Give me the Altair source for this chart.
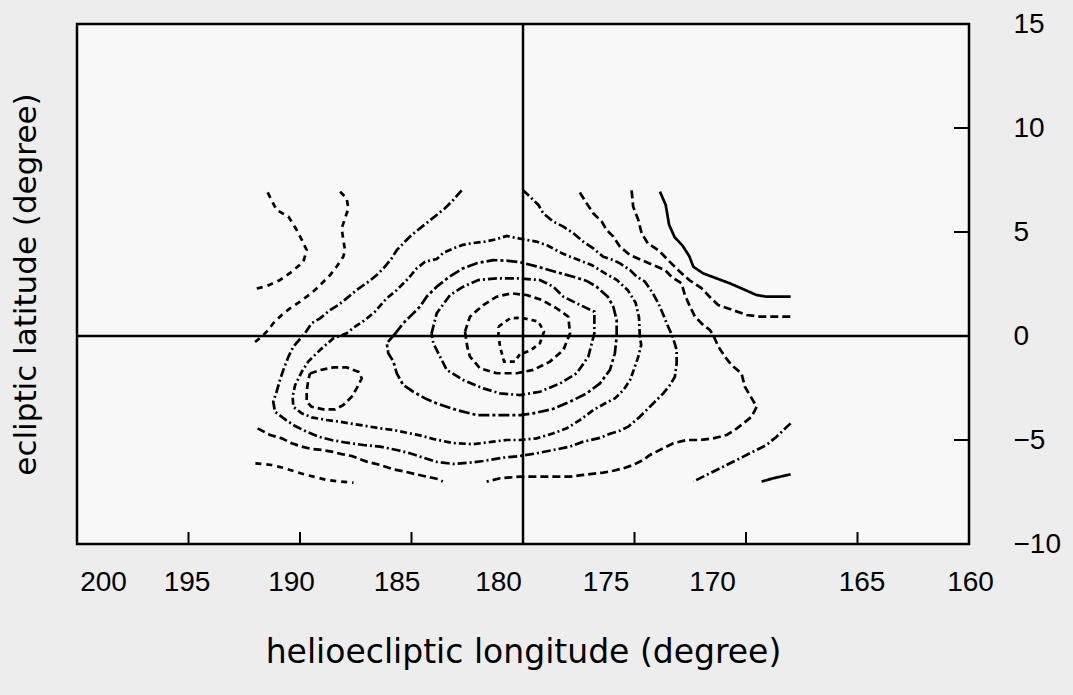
import altair as alt
import pandas as pd

# ---------------- data ----------------
x_ticks = [200, 195, 190, 185, 180, 175, 170, 165, 160]
y_ticks = [-10, -5, 0, 5, 10, 15]

# closed contours around the main peak (lon, lat)
c1 = [(181.1, 0.45), (180.58, 0.85), (180.06, 0.88), (179.31, 0.69), (179.06, 0.21),
      (179.24, -0.35), (179.69, -0.71), (180.14, -0.87), (180.36, -1.23), (180.85, -1.23),
      (181.03, -0.51), (181.1, 0.05)]
c2 = [(182.6, 0.21), (182.38, 0.93), (181.78, 1.49), (181.18, 1.89), (180.51, 2.05),
      (179.84, 1.97), (179.16, 1.73), (178.49, 1.33), (177.97, 0.93), (177.89, 0.13),
      (178.19, -0.67), (178.79, -1.23), (179.54, -1.63), (180.28, -1.79), (181.18, -1.79),
      (181.93, -1.55), (182.38, -0.99), (182.5, -0.51)]
c3 = [(184.1, 0.13), (183.87, 1.09), (183.27, 1.97), (182.68, 2.37), (182.0, 2.69),
      (181.18, 2.77), (180.14, 2.77), (179.24, 2.69), (178.64, 2.37), (178.19, 1.89),
      (177.44, 1.49), (176.8, 1.17), (176.8, 0.13), (177.07, -0.99), (177.59, -1.79),
      (178.34, -2.28), (179.24, -2.68), (180.14, -2.84), (181.03, -2.76), (181.78, -2.52),
      (182.68, -2.12), (183.42, -1.63), (183.72, -0.99), (184.02, -0.35)]
c4 = [(185.74, 0.1), (185.37, 0.61), (185.07, 0.93), (184.62, 1.41), (184.32, 1.89),
      (183.87, 2.37), (183.3, 2.85), (182.7, 3.25), (182.08, 3.5), (181.33, 3.65),
      (180.73, 3.62), (180.14, 3.55), (179.4, 3.35), (178.6, 3.1), (177.75, 2.85),
      (177.15, 2.65), (176.7, 2.37), (176.2, 1.89), (175.95, 1.41), (175.8, 0.77),
      (175.8, -0.03), (175.88, -0.83), (176.1, -1.63), (176.55, -2.28), (177.15, -2.76),
      (177.9, -3.16), (178.64, -3.5), (179.54, -3.72), (180.11, -3.8), (181.03, -3.8),
      (182.08, -3.8), (182.97, -3.56), (183.87, -3.24), (184.39, -3.0), (184.92, -2.68),
      (185.37, -2.36), (185.66, -1.8), (185.81, -1.23), (186.04, -0.83), (186.11, -0.35)]
# closed contour around the secondary peak
s1 = [(189.55, -1.8), (189.1, -1.64), (188.5, -1.51), (187.91, -1.51), (187.38, -1.72),
      (187.23, -2.04), (187.46, -2.52), (187.68, -2.92), (188.06, -3.32), (188.43, -3.53),
      (188.95, -3.53), (189.48, -3.4), (189.7, -3.16), (189.7, -2.68), (189.63, -2.12)]
# closed contour around both peaks
c5 = [(174.76, 0.0), (174.8, 0.9), (174.95, 1.6), (175.3, 2.2), (175.8, 2.7), (176.3, 3.0),
      (176.9, 3.4), (177.5, 3.65), (178.2, 3.95), (178.9, 4.35), (179.4, 4.54), (180.0, 4.65),
      (180.73, 4.81), (181.2, 4.65), (181.7, 4.54), (182.3, 4.46), (182.7, 4.38),
      (183.13, 4.21), (183.57, 4.0), (183.87, 3.7), (184.39, 3.57), (184.77, 3.25),
      (185.14, 2.77), (185.66, 2.21), (186.11, 1.81), (186.64, 1.17), (187.08, 0.77),
      (187.53, 0.45), (187.91, 0.13), (188.5, -0.11), (189.1, -0.67), (189.63, -1.23),
      (189.92, -1.72), (190.22, -2.36), (190.33, -2.92), (190.3, -3.4), (189.92, -3.72),
      (189.48, -3.91), (188.8, -4.04), (188.21, -4.12), (187.61, -4.23), (187.01, -4.33),
      (186.41, -4.44), (185.81, -4.52), (185.22, -4.65), (184.62, -4.78), (184.02, -4.95),
      (183.13, -5.15), (182.23, -5.2), (181.33, -5.08), (180.73, -5.0), (180.14, -5.0),
      (179.39, -4.92), (178.64, -4.68), (178.04, -4.44), (177.45, -4.04), (176.85, -3.56),
      (176.25, -3.2), (175.88, -3.0), (175.5, -2.6), (175.2, -2.12), (174.98, -1.47),
      (174.83, -0.99), (174.7, -0.43)]
# open contours (cut by the edge of the data area)
c6 = [(182.75, 7.0), (183.13, 6.54), (183.5, 6.14), (183.87, 5.82), (184.3, 5.45),
      (184.99, 4.86), (185.29, 4.54), (185.66, 4.13), (185.89, 3.73), (186.26, 3.25),
      (186.56, 2.93), (186.93, 2.61), (187.46, 2.21), (187.91, 1.81), (188.28, 1.49),
      (188.65, 1.25), (189.1, 0.85), (189.48, 0.61), (189.78, 0.13), (190.3, -0.51),
      (190.52, -1.0), (190.75, -1.64), (190.9, -2.12), (191.05, -2.68), (191.2, -3.16),
      (191.12, -3.64), (190.67, -4.01), (190.22, -4.33), (189.7, -4.6), (189.18, -4.84),
      (188.58, -5.0), (187.91, -5.13), (187.16, -5.24), (186.41, -5.32), (185.66, -5.48),
      (185.07, -5.64), (184.47, -5.85), (183.87, -6.05), (183.13, -6.15), (182.38, -6.09),
      (181.78, -6.01), (180.88, -5.85), (180.14, -5.77), (179.39, -5.64), (178.64, -5.48),
      (177.89, -5.32), (177.3, -5.08), (176.55, -4.9), (176.1, -4.7), (175.65, -4.55),
      (175.28, -4.36), (174.76, -3.88), (174.31, -3.4), (174.01, -3.08), (173.71, -2.76),
      (173.41, -2.36), (173.19, -1.96), (173.11, -1.31), (173.11, -0.67), (173.3, 0.0),
      (173.56, 0.61), (173.7, 1.0), (173.93, 1.57), (174.2, 2.1), (174.53, 2.61),
      (174.9, 2.85), (175.2, 3.17), (175.65, 3.49), (175.95, 3.65), (176.4, 3.81),
      (176.85, 4.21), (177.3, 4.54), (177.74, 4.94), (178.19, 5.26), (178.64, 5.5),
      (179.09, 5.9), (179.31, 6.3), (179.69, 6.7), (179.99, 7.0)]
c7 = [(177.45, 6.9), (177.15, 6.38), (176.85, 5.9), (176.47, 5.5), (176.25, 5.1),
      (175.95, 4.78), (175.65, 4.29), (175.2, 3.89), (174.68, 3.65), (174.16, 3.41),
      (173.63, 3.17), (173.34, 2.85), (172.89, 2.53), (172.74, 1.97), (172.51, 1.41),
      (172.29, 0.93), (171.92, 0.53), (171.62, 0.29), (171.45, 0.0), (171.24, -0.51),
      (170.95, -0.99), (170.65, -1.39), (170.2, -1.8), (170.05, -2.44), (169.75, -2.99),
      (169.52, -3.4), (169.75, -3.88), (170.12, -4.2), (170.5, -4.52), (170.87, -4.76),
      (171.47, -4.92), (172.07, -5.0), (172.66, -5.0), (173.26, -5.16), (173.71, -5.4),
      (174.31, -5.72), (174.61, -5.96), (175.06, -6.2), (175.5, -6.36), (175.95, -6.48),
      (176.4, -6.57), (176.7, -6.6), (177.3, -6.68), (177.89, -6.76), (178.64, -6.76),
      (179.39, -6.76), (180.14, -6.76), (181.03, -6.84), (181.63, -7.0)]
r3 = [(191.9, -4.44), (191.34, -4.76), (190.82, -4.92), (190.37, -5.16), (189.92, -5.32),
      (189.48, -5.43), (189.03, -5.48), (188.58, -5.56), (188.13, -5.68), (187.68, -5.77),
      (187.01, -6.04), (186.41, -6.2), (185.81, -6.41), (185.29, -6.52), (184.84, -6.64),
      (184.32, -6.76), (183.8, -6.88), (183.6, -7.0)]
r4 = [(192.0, -6.12), (191.27, -6.2), (190.67, -6.36), (189.98, -6.6), (189.4, -6.76),
      (188.8, -6.92), (188.21, -7.0), (187.6, -7.05)]
l1 = [(191.45, 6.9), (191.05, 6.06), (190.52, 5.74), (190.15, 5.1), (189.92, 4.62),
      (189.7, 4.13), (189.85, 3.57), (190.37, 3.09), (190.9, 2.69), (191.49, 2.4),
      (192.02, 2.26)]
l2 = [(188.2, 6.94), (187.91, 6.62), (187.83, 6.14), (187.98, 5.66), (188.13, 5.18),
      (188.06, 4.62), (187.98, 4.13), (188.06, 3.81), (188.36, 3.33), (188.65, 2.93),
      (188.95, 2.61), (189.33, 2.21), (189.7, 1.89), (190.0, 1.65), (190.45, 1.33),
      (190.82, 1.01), (191.2, 0.61), (191.42, 0.29), (191.72, -0.03), (192.09, -0.35)]
c8_up = [(175.13, 7.0), (175.06, 6.22), (174.83, 5.58), (174.68, 4.94), (174.4, 4.45),
         (173.9, 4.1), (173.45, 3.6), (173.0, 3.13), (172.55, 2.69), (172.0, 2.3),
         (171.6, 1.85), (171.25, 1.49), (170.6, 1.25), (169.97, 1.01), (169.38, 0.93),
         (168.0, 0.93)]
c8_low = [(168.0, -4.2), (168.63, -4.84), (169.08, -5.24), (169.68, -5.56), (170.27, -5.88),
          (170.72, -6.12), (171.32, -6.44), (171.92, -6.76), (172.36, -7.0)]
c9_up = [(173.86, 6.94), (173.6, 6.3), (173.45, 5.35), (173.2, 4.75), (172.85, 4.35),
         (172.55, 3.85), (172.36, 3.33), (171.92, 3.01), (171.32, 2.77), (170.72, 2.53),
         (170.12, 2.25), (169.53, 1.97), (169.08, 1.89), (168.0, 1.89)]
c9_low = [(169.3, -7.0), (168.78, -6.84), (168.0, -6.65)]

# name, points, line style, closed?
contours = [
    ("c1", c1, "s1", True), ("c2", c2, "s2", True), ("c3", c3, "s3", True),
    ("c4", c4, "s4", True), ("s1", s1, "s2", True), ("c5", c5, "s5", True),
    ("c6", c6, "s6", False), ("c7", c7, "s7", False), ("r3", r3, "s7", False),
    ("r4", r4, "s8", False), ("l1", l1, "s8", False), ("l2", l2, "s8", False),
    ("c8u", c8_up, "s7", False), ("c8l", c8_low, "s6", False),
    ("c9u", c9_up, "solid", False), ("c9l", c9_low, "solid", False),
]
style_names = ["s1", "s2", "s3", "s4", "s5", "s6", "s7", "s8", "solid"]
style_dash = [[5, 4], [7, 4], [9, 3, 2, 3], [11, 3, 3, 3], [7, 3, 2, 3],
              [9, 3, 2, 3], [8, 4], [6, 5], [1, 0]]

rows = []
for name, pts, style, closed in contours:
    seq = pts + [pts[0]] if closed else pts
    for i, (lo, la) in enumerate(seq):
        rows.append({"cid": name, "i": i, "lon": lo, "lat": la, "style": style})
df = pd.DataFrame(rows)

# ---------------- chart ----------------
W, H = 892, 520
LABEL_FONT = "Liberation Sans"
TITLE_FONT = "DejaVu Sans"

# the printed longitude labels sit a little off their ticks in the original
label_shift = {200: 26, 195: -2, 190: -9, 185: -15, 180: -25, 175: -29, 170: -34, 165: 4, 160: 1}
label_offset = {
    "condition": [{"test": f"datum.value == {v}", "value": d} for v, d in label_shift.items()],
    "value": 0,
}

xs = alt.Scale(domain=[160, 200], reverse=True, nice=False, zero=False)
ys = alt.Scale(domain=[-10, 15], nice=False, zero=False)

x_axis = alt.Axis(
    orient="bottom", values=x_ticks, ticks=False, tickSize=0, domain=False, grid=False,
    labelFont=LABEL_FONT, labelFontSize=28, labelColor="black", labelPadding=24,
    labelFlush=False, labelOverlap=False, format="d", labelOffset=label_offset,
    title="helioecliptic longitude (degree)", titleFont=TITLE_FONT, titleFontSize=33,
    titleFontWeight="normal", titleColor="black", titlePadding=40)

X = alt.X("lon:Q", scale=xs, axis=x_axis)

lines = alt.Chart(df).mark_line(color="black", strokeWidth=2.7, strokeCap="butt").encode(
    x=X,
    y=alt.Y("lat:Q", scale=ys, axis=alt.Axis(
        orient="right", values=y_ticks, ticks=False, tickSize=0, domain=False, grid=False,
        labelFont=LABEL_FONT, labelFontSize=28, labelColor="black", labelAlign="left",
        labelBaseline="middle", labelPadding=44, labelFlush=False, title=None)),
    detail="cid:N",
    order="i:Q",
    strokeDash=alt.StrokeDash("style:N", scale=alt.Scale(domain=style_names, range=style_dash),
                              legend=None),
)

hline = alt.Chart(pd.DataFrame({"lat": [0]})).mark_rule(color="black", strokeWidth=2.5).encode(
    y=alt.Y("lat:Q", scale=ys, axis=alt.Axis(
        orient="left", labels=False, ticks=False, domain=False, grid=False,
        title="ecliptic latitude (degree)", titleFont=TITLE_FONT, titleFontSize=31,
        titleFontWeight="normal", titleColor="black", titlePadding=35)),
)
vline = alt.Chart(pd.DataFrame({"lon": [180]})).mark_rule(color="black", strokeWidth=2.5).encode(
    x=X,
)
xtick = alt.Chart(pd.DataFrame({"lon": x_ticks})).mark_rule(color="black", strokeWidth=2).encode(
    x=X,
    y=alt.value(H), y2=alt.value(H - 12),
)
ytick = alt.Chart(pd.DataFrame({"lat": y_ticks})).mark_rule(color="black", strokeWidth=2).encode(
    y=alt.Y("lat:Q", scale=ys, axis=None),
    x=alt.value(W), x2=alt.value(W - 15),
)

chart = alt.layer(lines, hline, vline, xtick, ytick).resolve_axis(y="independent").properties(
    width=W, height=H,
    autosize=alt.AutoSizeParams(type="none"),
    padding={"left": 77, "top": 24, "right": 1073 - 77 - W, "bottom": 695 - 24 - H},
    background="#ededed",
).configure_view(stroke="black", strokeWidth=2.5, fill="#f8f8f8")

chart.save("out.html", embed_options={"renderer": "svg", "actions": False})
